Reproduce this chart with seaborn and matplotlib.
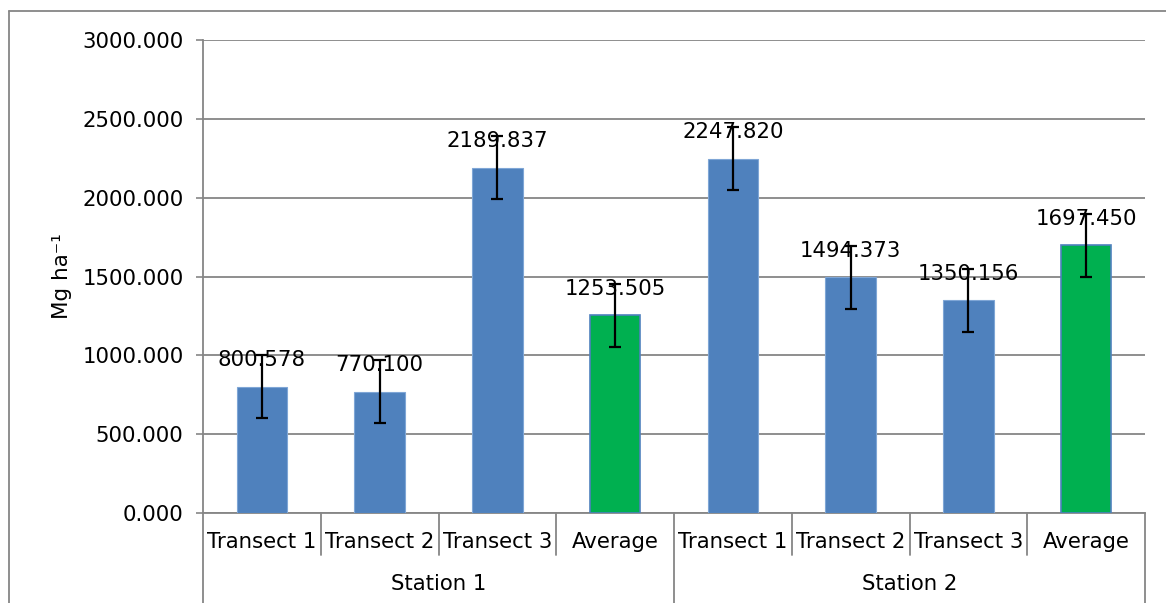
import matplotlib
matplotlib.use("Agg")
import matplotlib.pyplot as plt
from matplotlib.lines import Line2D
import seaborn as sns
import pandas as pd

# ---- data ----
stations = ["Station 1", "Station 2"]
categories = ["Transect 1", "Transect 2", "Transect 3", "Average"]
values_station1 = [800.578, 770.100, 2189.837, 1253.505]
values_station2 = [2247.820, 1494.373, 1350.156, 1697.450]
errors_station1 = [200, 200, 200, 200]
errors_station2 = [200, 200, 200, 200]
y_ticks = [0, 500, 1000, 1500, 2000, 2500, 3000]
y_label = "Mg ha\u207b\u00b9"

BLUE = "#4F81BD"
GREEN = "#00B050"
GRAY = "#868686"

rows = []
for st, vals, errs in [(stations[0], values_station1, errors_station1),
                       (stations[1], values_station2, errors_station2)]:
    for cat, v, e in zip(categories, vals, errs):
        rows.append({"key": f"{st}|{cat}", "station": st, "category": cat,
                     "value": v, "err": e,
                     "kind": "avg" if cat == "Average" else "transect"})
df = pd.DataFrame(rows)

sns.set_theme(style="white")
plt.rcParams["font.family"] = ["DejaVu Sans"]
plt.rcParams["text.color"] = "black"
plt.rcParams["ytick.labelcolor"] = "black"
plt.rcParams["axes.labelcolor"] = "black"

fig = plt.figure(figsize=(11.66, 6.03), dpi=100)
ax = fig.add_axes([203 / 1166, 1 - 513 / 603, (1145 - 203) / 1166, (513 - 40) / 603])

sns.barplot(data=df, x="key", y="value", hue="kind", order=list(df["key"]),
            palette={"transect": BLUE, "avg": GREEN}, dodge=False, saturation=1,
            width=0.43, legend=False, ax=ax, errorbar=None, zorder=3)

for p in ax.patches:
    if abs(p.get_height()) > 0:
        fc = p.get_facecolor()
        if fc[1] > 0.6:  # green bar
            p.set_edgecolor(BLUE)
            p.set_linewidth(1.2)
        else:
            p.set_edgecolor("#7FA6D6")
            p.set_linewidth(0.8)

xs = ax.get_xticks()
ax.errorbar(xs, df["value"], yerr=df["err"], fmt="none", ecolor="black",
            elinewidth=1.6, capsize=4.5, capthick=1.6, zorder=4)

for x, v in zip(xs, df["value"]):
    ax.annotate(f"{v:.3f}", (x, v), xytext=(0, 19), textcoords="offset points",
                ha="center", va="center", fontsize=15.3, color="black", zorder=5)

ax.set_xlim(xs[0] - 0.5, xs[-1] + 0.5)
ax.set_ylim(0, 3000)
ax.set_yticks(y_ticks)
ax.set_yticklabels([f"{t:.3f}" for t in y_ticks], fontsize=15.3, color="black")
ax.yaxis.grid(True, color=GRAY, linewidth=1.3)
ax.set_axisbelow(True)
ax.tick_params(axis="y", length=5, width=1.2, color=GRAY, left=True, pad=9,
               labelcolor="black")
ax.tick_params(axis="x", length=0, bottom=False, labelbottom=False)
ax.set_xlabel("")
ax.set_ylabel(y_label, fontsize=15.5, color="black")
ax.yaxis.set_label_coords(-0.139, 0.5)

for side in ["top", "right"]:
    ax.spines[side].set_visible(False)
for side in ["left", "bottom"]:
    ax.spines[side].set_color(GRAY)
    ax.spines[side].set_linewidth(1.3)

# category labels and separators
xt = ax.get_xaxis_transform()
n_per = len(categories)
ax_h = 473
for x, cat in zip(xs, df["category"]):
    ax.text(x, -29 / ax_h, cat, transform=xt, ha="center", va="center",
            fontsize=15.3, color="black", clip_on=False)
for i in range(len(xs) + 1):
    xb = xs[0] - 0.5 + i
    y0 = -92 / ax_h if i % n_per == 0 else -42 / ax_h
    ax.add_line(Line2D([xb, xb], [0, y0], transform=xt, color=GRAY,
                       linewidth=1.3, clip_on=False))
for j, st in enumerate(stations):
    center = (xs[j * n_per] + xs[(j + 1) * n_per - 1]) / 2
    ax.text(center, -71 / ax_h, st, transform=xt, ha="center", va="center",
            fontsize=15.3, color="black", clip_on=False)

# outer chart border
fig.add_artist(Line2D([9 / 1166, 9 / 1166], [0, 1 - 11 / 603],
                      transform=fig.transFigure, color=GRAY, linewidth=1.3))
fig.add_artist(Line2D([9 / 1166, 1], [1 - 11 / 603, 1 - 11 / 603],
                      transform=fig.transFigure, color=GRAY, linewidth=1.3))

fig.savefig("out.png", dpi=100)
